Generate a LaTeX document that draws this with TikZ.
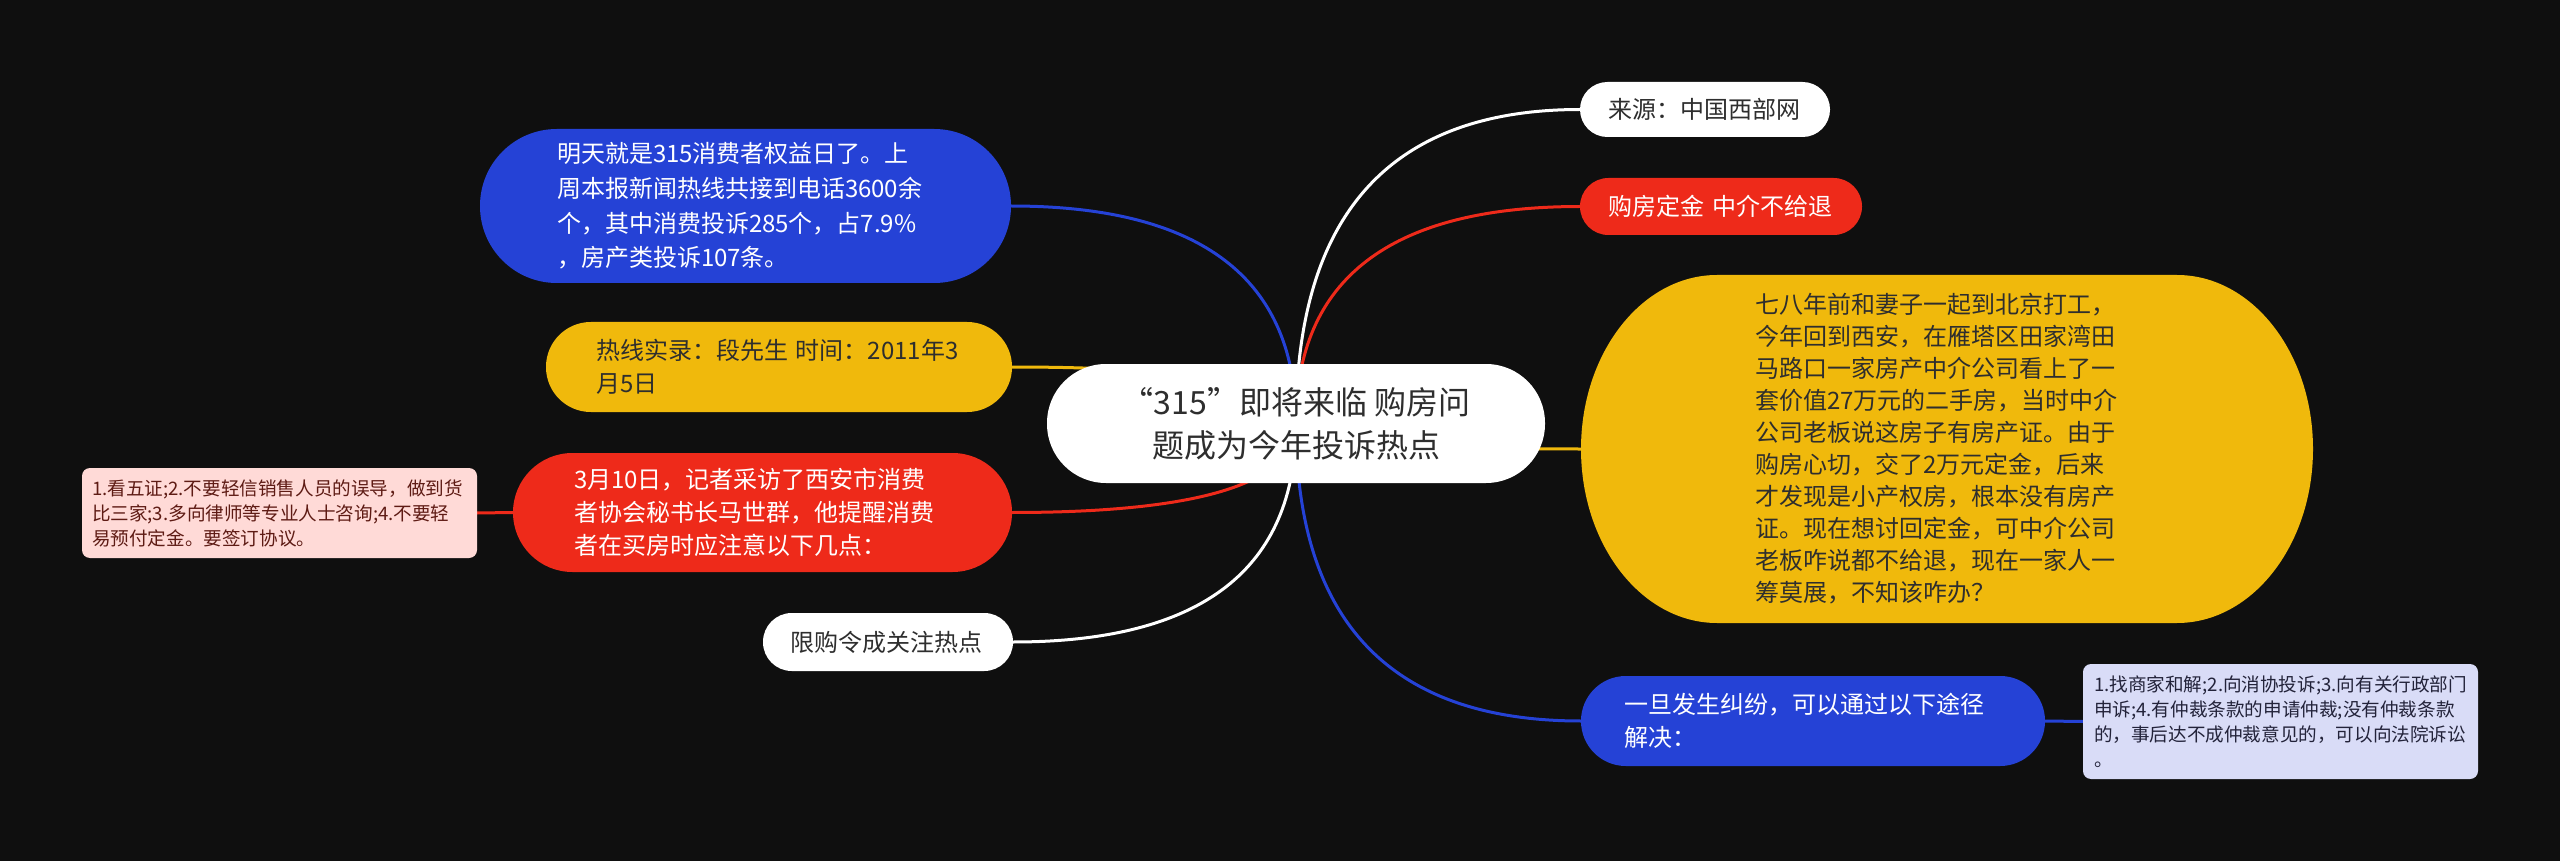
\documentclass[tikz,border=0pt]{standalone}
\usepackage{fontspec}
\setmainfont{Noto Sans CJK SC}
\usetikzlibrary{backgrounds,calc}

\definecolor{bgc}{HTML}{0F0F0F}
\definecolor{mblue}{HTML}{2542D6}
\definecolor{mred}{HTML}{EE2A1A}
\definecolor{mgold}{HTML}{F0B90C}
\definecolor{mpink}{HTML}{FFDAD7}
\definecolor{mlav}{HTML}{D9DCF7}
\definecolor{dtext}{HTML}{2E2E2E}
\definecolor{ptext}{HTML}{5E1B14}
\definecolor{ltext}{HTML}{23233A}

% curved branch from a topic to the root
\newcommand{\branch}[2]{%
  \draw[link, #1] (#2) .. controls ($(#2)!0.667!(root.center |- #2)$)
    and ($(root.center)!0.667!(root.center |- #2)$) .. (root.center);}

\begin{document}
\begin{tikzpicture}[x=0.5pt, y=-0.5pt,
    topic/.style={rectangle, outer sep=0pt, inner ysep=0pt, align=left,
      font=\fontsize{12}{16.5}\selectfont},
    note/.style={rectangle, outer sep=0pt, inner ysep=0pt, align=left,
      rounded corners=4pt, font=\fontsize{9.3}{12.5}\selectfont},
    link/.style={line width=1.5pt}]
    \path[use as bounding box] (0,0) rectangle (2560,861);

    % root
    \node[topic, fill=white, text=dtext, align=center, minimum width=249pt,
      minimum height=59.5pt, inner xsep=0pt, rounded corners=29.5pt,
      font=\fontsize{16}{21.5}\selectfont] (root) at (1296,423.5)
      {“315”即将来临 购房问\\题成为今年投诉热点};

    % left side
    \node[topic, fill=mblue, text=white, minimum width=265.5pt, minimum height=77pt,
      inner xsep=38.5pt, text width=188.5pt, rounded corners=38.4pt,
      font=\fontsize{12}{17.3}\selectfont] (news) at (745.5,206)
      {明天就是315消费者权益日了。上\\周本报新闻热线共接到电话3600余\\个，其中消费投诉285个，占7.9\%\\，房产类投诉107条。};
    \node[topic, fill=mgold, text=dtext, minimum width=233pt, minimum height=45pt,
      inner xsep=25pt, text width=183pt, rounded corners=22.4pt] (hotline) at (779,367)
      {热线实录：段先生~时间：2011年3\\月5日};
    \node[topic, fill=mred, text=white, minimum width=249.5pt, minimum height=59.5pt,
      inner xsep=30.5pt, text width=188.5pt, rounded corners=29.7pt] (advice) at (762.5,512.5)
      {3月10日，记者采访了西安市消费\\者协会秘书长马世群，他提醒消费\\者在买房时应注意以下几点：};
    \node[note, fill=mpink, text=ptext, minimum width=197.5pt, minimum height=45pt,
      inner xsep=5pt, text width=187.5pt] (tips) at (279.5,513)
      {1.看五证;2.不要轻信销售人员的误导，做到货\\比三家;3.多向律师等专业人士咨询;4.不要轻\\易预付定金。要签订协议。};
    \node[topic, fill=white, text=dtext, minimum width=125pt, minimum height=29pt,
      inner xsep=13.5pt, text width=98pt, rounded corners=14.4pt] (limit) at (888,642)
      {限购令成关注热点};

    % right side
    \node[topic, fill=white, text=dtext, minimum width=125pt, minimum height=27.5pt,
      inner xsep=14pt, text width=97pt, rounded corners=13.7pt] (source) at (1705,109.5)
      {来源：中国西部网};
    \node[topic, fill=mred, text=white, minimum width=141pt, minimum height=28.5pt,
      inner xsep=14pt, text width=113pt, rounded corners=14.2pt] (deposit) at (1721,206.5)
      {购房定金~中介不给退};
    \node[topic, text=dtext, minimum width=366pt, minimum height=174pt,
      inner xsep=87pt, text width=192pt, font=\fontsize{12}{16}\selectfont] (story) at (1947,449)
      {七八年前和妻子一起到北京打工，\\今年回到西安，在雁塔区田家湾田\\马路口一家房产中介公司看上了一\\套价值27万元的二手房，当时中介\\公司老板说这房子有房产证。由于\\购房心切，交了2万元定金，后来\\才发现是小产权房，根本没有房产\\证。现在想讨回定金，可中介公司\\老板咋说都不给退，现在一家人一\\筹莫展，不知该咋办？};
    \node[topic, fill=mblue, text=white, minimum width=232pt, minimum height=45pt,
      inner xsep=21.5pt, text width=189pt, rounded corners=22.4pt] (dispute) at (1813,721)
      {一旦发生纠纷，可以通过以下途径\\解决：};
    \node[note, fill=mlav, text=ltext, minimum width=197.5pt, minimum height=57.5pt,
      inner xsep=5.5pt, text width=186.5pt] (ways) at (2280.5,721.5)
      {1.找商家和解;2.向消协投诉;3.向有关行政部门\\申诉;4.有仲裁条款的申请仲裁;没有仲裁条款\\的，事后达不成仲裁意见的，可以向法院诉讼\\。};

    \begin{scope}[on background layer]
      \fill[bgc] (0,0) rectangle (2560,861);
      \branch{mblue}{news.east}
      \branch{mgold}{hotline.east}
      \branch{mred}{advice.east}
      \branch{white}{limit.east}
      \branch{white}{source.west}
      \branch{mred}{deposit.west}
      \branch{mgold}{story.west}
      \branch{mblue}{dispute.west}
      \draw[link, mred] (tips.east) -- (advice.west);
      \draw[link, mblue] (dispute.east) -- (ways.west);
      % yellow story shape with oval ends
      \fill[mgold] ([xshift=68pt]story.north west) -- ([xshift=-68pt]story.north east)
        arc[start angle=90, end angle=-90, x radius=68pt, y radius=87pt]
        -- ([xshift=68pt]story.south west)
        arc[start angle=270, end angle=90, x radius=68pt, y radius=87pt] -- cycle;
    \end{scope}
\end{tikzpicture}
\end{document}
